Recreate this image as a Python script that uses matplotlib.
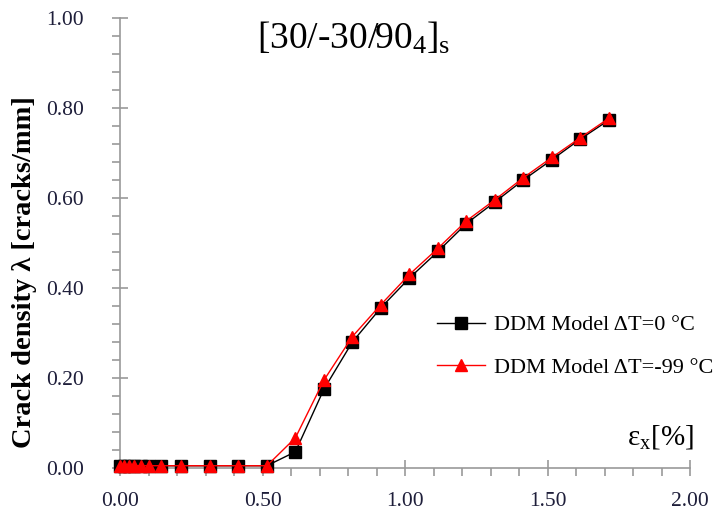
import matplotlib
matplotlib.use("Agg")
import matplotlib.pyplot as plt
from matplotlib.ticker import MultipleLocator, FormatStrFormatter

plt.rcParams['font.family'] = ['Liberation Serif', 'DejaVu Serif']
plt.rcParams['mathtext.fontset'] = 'custom'
plt.rcParams['mathtext.rm'] = 'Liberation Serif'
plt.rcParams['mathtext.it'] = 'Liberation Serif:italic'

# strain [%]
strain = [0.0, 0.015, 0.03, 0.05, 0.075, 0.1, 0.145, 0.215, 0.315, 0.415, 0.515,
          0.615, 0.715, 0.815, 0.915, 1.015, 1.115, 1.215, 1.315, 1.415, 1.515,
          1.615, 1.715]
# crack density, dT = 0
dens_0 = [0.005, 0.005, 0.005, 0.005, 0.005, 0.005, 0.005, 0.005, 0.005, 0.005, 0.005,
          0.036, 0.175, 0.28, 0.356, 0.422, 0.481, 0.543, 0.591, 0.64, 0.685,
          0.731, 0.773]
# crack density, dT = -99
dens_99 = [0.005, 0.005, 0.005, 0.005, 0.005, 0.005, 0.005, 0.005, 0.005, 0.005, 0.005,
           0.067, 0.195, 0.292, 0.363, 0.43, 0.488, 0.549, 0.596, 0.645, 0.69,
           0.734, 0.777]

fig = plt.figure(figsize=(7.28, 5.27), dpi=100)
ax = fig.add_axes([0.165, 0.112, 0.783, 0.854])

ax.plot(strain, dens_0, color='black', lw=1, marker='s', ms=8,
        label='DDM Model ΔT=0 °C', clip_on=False, zorder=3)
ax.plot(strain, dens_99, color='red', lw=1, marker='^', ms=9,
        label='DDM Model ΔT=-99 °C', clip_on=False, zorder=4)

ax.set_xlim(0, 2)
ax.set_ylim(0, 1)
ax.xaxis.set_major_locator(MultipleLocator(0.5))
ax.xaxis.set_minor_locator(MultipleLocator(0.1))
ax.yaxis.set_major_locator(MultipleLocator(0.2))
ax.yaxis.set_minor_locator(MultipleLocator(0.04))
ax.xaxis.set_major_formatter(FormatStrFormatter('%.2f'))
ax.yaxis.set_major_formatter(FormatStrFormatter('%.2f'))

for s in ['top', 'right']:
    ax.spines[s].set_visible(False)
for s in ['left', 'bottom']:
    ax.spines[s].set_color('#999999')
    ax.spines[s].set_linewidth(1.2)

ax.tick_params(which='major', direction='inout', length=12, width=1.2,
               color='#999999', labelsize=15.5, labelcolor='#1e1e3a')
ax.tick_params(which='minor', direction='out', length=6, width=1.2, color='#999999')
ax.tick_params(axis='y', which='major', pad=20)
ax.tick_params(axis='x', which='major', pad=11)

ax.set_ylabel('Crack density λ [cracks/mm]', fontsize=20.5, fontweight='bold')
ax.yaxis.set_label_coords(-0.146, 0.436)

ax.text(0.41, 0.955, r'$\mathrm{[30/\text{-}30/90_4]_s}$', transform=ax.transAxes,
        fontsize=27, ha='center', va='center')
ax.text(0.947, 0.069, r'$\mathrm{\varepsilon_x[\%]}$', transform=ax.transAxes,
        fontsize=21, ha='center', va='center')

ax.legend(loc='center left', bbox_to_anchor=(0.52, 0.27), frameon=False,
          fontsize=16, handlelength=2.2, handletextpad=0.4, labelspacing=1.0)

fig.savefig('out.png', dpi=100)
